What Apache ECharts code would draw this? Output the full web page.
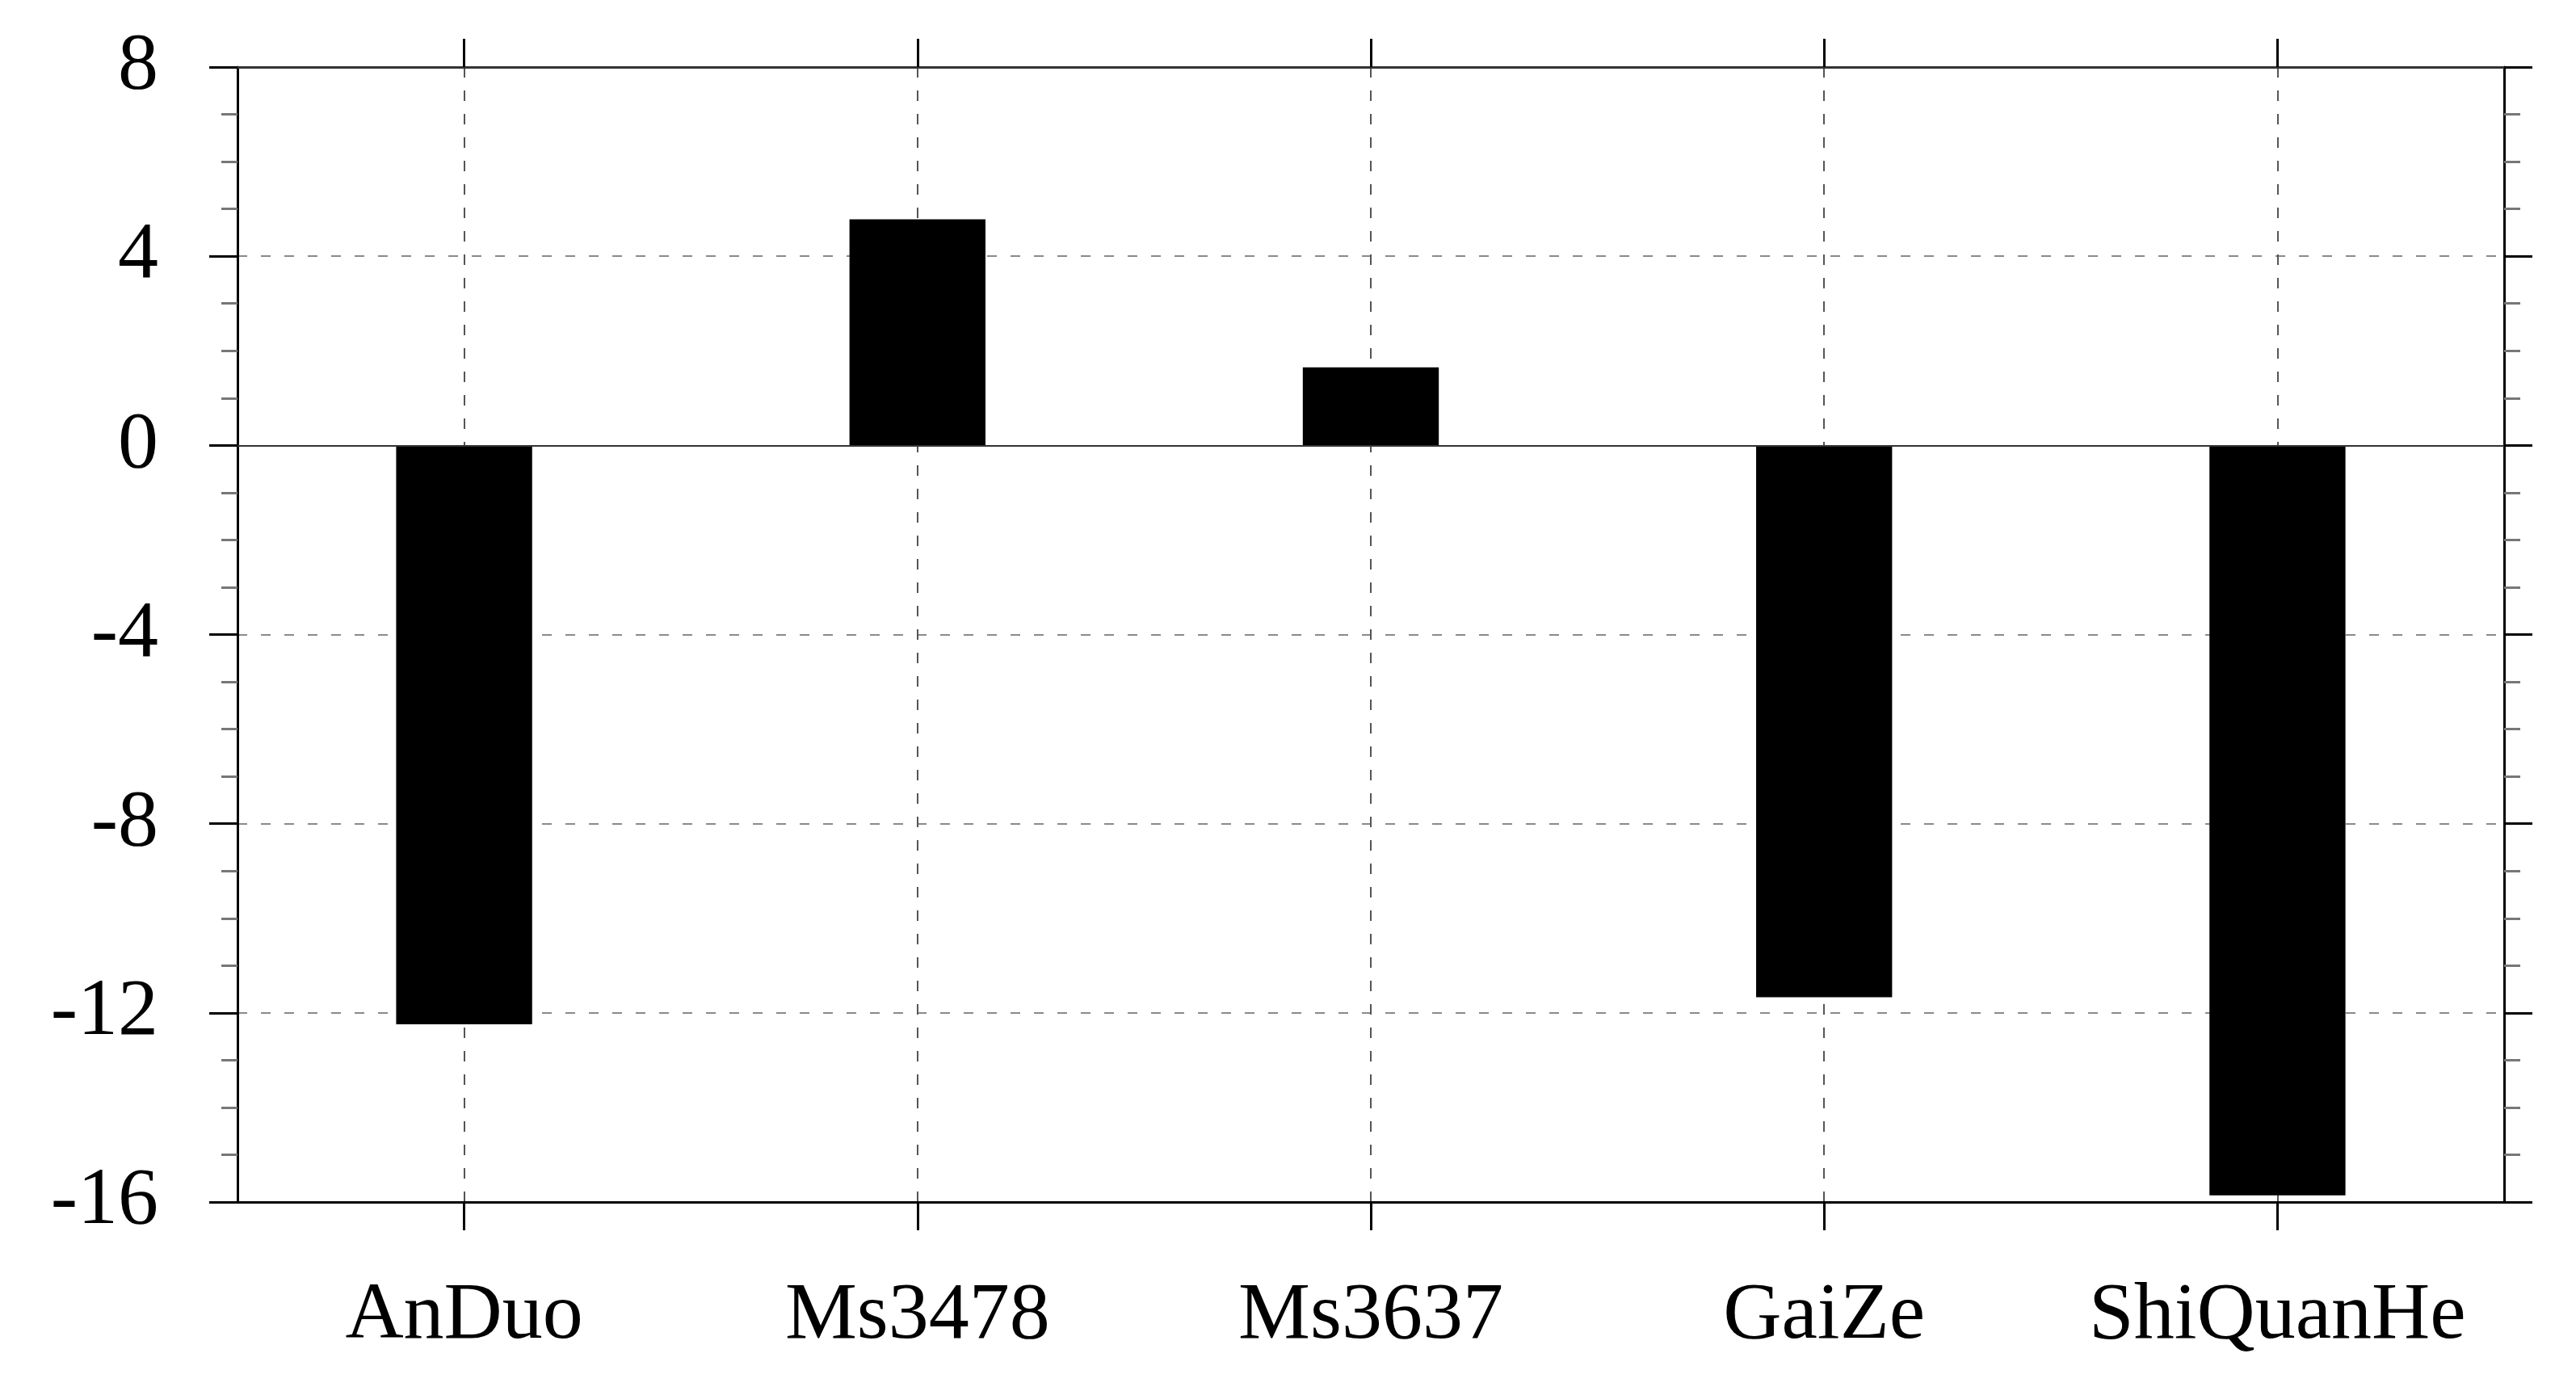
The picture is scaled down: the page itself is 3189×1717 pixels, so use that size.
<!DOCTYPE html>
<html>
<head>
<meta charset="utf-8">
<script src="https://cdn.jsdelivr.net/npm/echarts@6/dist/echarts.min.js"></script>
<style>html,body{margin:0;padding:0;background:#fff}#c{width:3189px;height:1717px}</style>
</head>
<body>
<div id="c"></div>
<script>
const categories = ['AnDuo', 'Ms3478', 'Ms3637', 'GaiZe', 'ShiQuanHe'];
const values = [-12.24, 4.78, 1.65, -11.67, -15.86];
const yMin = -16, yMax = 8, yStep = 4;

const chart = echarts.init(document.getElementById('c'), null, {renderer: 'canvas'});
const font = 'Liberation Serif';
const hGrid = {show: true, lineStyle: {color: '#8a8a8a', width: 2, type: [12, 17]}};
const vGrid = {show: true, interval: 0, alignWithLabel: true, lineStyle: {color: '#555', width: 2, type: [13, 16]}};
chart.setOption({
  backgroundColor: '#fff',
  animation: false,
  grid: {left: 294, right: 89, top: 83, bottom: 229},
  xAxis: [{
    type: 'category', data: categories, position: 'bottom',
    axisLine: {show: true, onZero: false, lineStyle: {color: '#000', width: 3}},
    axisTick: {show: true, interval: 0, alignWithLabel: true, length: 35, lineStyle: {color: '#000', width: 3}},
    axisLabel: {show: true, interval: 0, margin: 92, fontFamily: font, fontSize: 100, color: '#000', lineHeight: 100},
    splitLine: vGrid
  }, {
    type: 'category', data: categories, position: 'top',
    axisLine: {show: true, onZero: false, lineStyle: {color: '#333', width: 3}},
    axisTick: {show: true, interval: 0, alignWithLabel: true, length: 35, lineStyle: {color: '#000', width: 3}},
    axisLabel: {show: false, interval: 0}, splitLine: {show: false}
  }],
  yAxis: [{
    type: 'value', min: yMin, max: yMax, interval: yStep, position: 'left',
    axisLine: {show: true, lineStyle: {color: '#000', width: 3}},
    axisTick: {show: true, length: 35, lineStyle: {color: '#000', width: 3}},
    minorTick: {show: true, splitNumber: 4, length: 20, lineStyle: {color: '#777', width: 3}},
    axisLabel: {margin: 98, fontFamily: font, fontSize: 100, color: '#000'},
    splitLine: hGrid
  }, {
    type: 'value', min: yMin, max: yMax, interval: yStep, position: 'right',
    axisLine: {show: true, lineStyle: {color: '#000', width: 3}},
    axisTick: {show: true, length: 35, lineStyle: {color: '#000', width: 3}},
    minorTick: {show: true, splitNumber: 4, length: 20, lineStyle: {color: '#777', width: 3}},
    axisLabel: {show: false}, splitLine: {show: false}
  }],
  series: [{
    type: 'bar', data: values, xAxisIndex: 0, yAxisIndex: 0,
    barWidth: '30%',
    itemStyle: {color: '#000', borderColor: '#000', borderWidth: 0},
    z: 2,
    markLine: {
      silent: true, symbol: 'none', label: {show: false},
      lineStyle: {color: '#333', width: 2, type: 'solid'},
      data: [{yAxis: 0}]
    }
  }]
});
</script>
</body>
</html>
